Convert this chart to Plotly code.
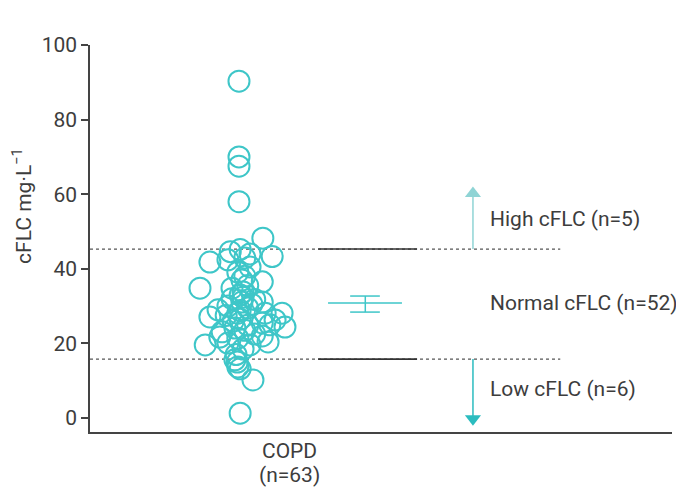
import plotly.graph_objects as go

# ---- data ----
category_label = ["COPD", "(n=63)"]
cflc_values = [90.3, 70.0, 67.5, 58.0, 48.2,
               45.2, 44.6, 43.3, 42.9, 42.4,
               41.8, 40.5, 39.1, 37.0, 36.5,
               34.8, 34.8, 33.8, 32.4, 31.1,
               31.1, 29.0, 28.1, 28.1, 28.1,
               27.1, 26.3, 25.5, 24.9, 24.4,
               24.1, 23.1, 21.7, 21.4, 20.4,
               20.1, 19.6, 19.6, 30.0, 26.5,
               22.5, 35.5, 38.0, 30.5, 27.5,
               25.0, 23.5, 32.0, 29.5, 33.0,
               26.0, 31.8, 22.0, 18.5, 17.0,
               44.0, 28.8, 15.6, 15.0, 13.7,
               13.2, 10.2, 1.3]
jitter = [0, 0, 0, 0, 0.41,
          0.02, -0.15, 0.57, 0.10, -0.19,
          -0.50, 0.19, -0.02, 0.05, 0.40,
          -0.67, -0.12, 0.07, 0.07, 0.05,
          0.40, -0.36, -0.02, 0.74, 0.45,
          -0.50, 0.62, 0.40, 0.15, 0.79,
          -0.07, -0.29, -0.33, -0.02, 0.50,
          -0.19, 0.19, -0.58, -0.19, 0.02,
          0.27, 0.15, 0.10, 0.22, -0.22,
          0.53, 0.10, -0.12, 0.15, 0.02,
          -0.10, 0.27, 0.40, 0.07, -0.05,
          0.19, 0.02, -0.07, -0.03, -0.02,
          0.02, 0.24, 0.02]
mean_value = 30.8
se_upper = 32.7
se_lower = 28.4
high_threshold = 45.3
low_threshold = 15.8
group_labels = ["High cFLC (n=5)", "Normal cFLC (n=52)", "Low cFLC (n=6)"]
y_ticks = [0, 20, 40, 60, 80, 100]

# ---- layout positions (axis units) ----
X_POINTS = 2.56
X_LABEL = 3.42
X_MEAN = 4.73
X_SOLID = (3.92, 5.62)
X_DOT_END = 8.08
X_ARROW = 6.58
X_TEXT = 6.84

TEAL = "#3ec6c8"
DARK = "#3d3d3d"
FONT = "Roboto"
FS = 21

fig = go.Figure()

# threshold lines (dotted, with solid middle segment)
for thr in (high_threshold, low_threshold):
    fig.add_trace(go.Scatter(x=[0, X_DOT_END], y=[thr, thr], mode="lines",
                             line=dict(color="#555555", width=1.2, dash="dot"),
                             hoverinfo="skip", showlegend=False))
    fig.add_trace(go.Scatter(x=list(X_SOLID), y=[thr, thr], mode="lines",
                             line=dict(color="#333333", width=1.6),
                             hoverinfo="skip", showlegend=False))

# points
fig.add_trace(go.Scatter(
    x=[X_POINTS + j for j in jitter], y=cflc_values, mode="markers",
    marker=dict(symbol="circle-open", size=21, color=TEAL, line=dict(width=2, color=TEAL)),
    showlegend=False))

# mean and SE bar
fig.add_trace(go.Scatter(x=[X_MEAN - 0.64, X_MEAN + 0.63], y=[mean_value, mean_value], mode="lines",
                         line=dict(color=TEAL, width=1.5), showlegend=False))
for v in (se_upper, se_lower):
    fig.add_trace(go.Scatter(x=[X_MEAN - 0.26, X_MEAN + 0.25], y=[v, v], mode="lines",
                             line=dict(color=TEAL, width=1.5), showlegend=False))
fig.add_trace(go.Scatter(x=[X_MEAN, X_MEAN], y=[se_lower, se_upper], mode="lines",
                         line=dict(color=TEAL, width=1.5), showlegend=False))

# arrows
UP = "#8fd4d5"
DOWN = "#2bbcbf"
fig.add_trace(go.Scatter(x=[X_ARROW, X_ARROW], y=[high_threshold, 59.5], mode="lines",
                         line=dict(color=UP, width=1.5), showlegend=False))
fig.add_trace(go.Scatter(x=[X_ARROW], y=[60.2], mode="markers",
                         marker=dict(symbol="triangle-up", size=14, color=UP), showlegend=False))
fig.add_trace(go.Scatter(x=[X_ARROW, X_ARROW], y=[low_threshold, 0.5], mode="lines",
                         line=dict(color=DOWN, width=1.5), showlegend=False))
fig.add_trace(go.Scatter(x=[X_ARROW], y=[-0.2], mode="markers",
                         marker=dict(symbol="triangle-down", size=14, color=DOWN), showlegend=False))

annotations = []
for txt, yv in zip(group_labels, [53.4, mean_value, 7.8]):
    annotations.append(dict(x=X_TEXT, y=yv, xref="x", yref="y", text=txt, showarrow=False,
                            xanchor="left", yanchor="middle",
                            font=dict(family=FONT, size=FS, color=DARK)))
for i, line in enumerate(category_label):
    annotations.append(dict(x=X_LABEL, y=-0.012 - i * 0.062, xref="x", yref="paper", text=line,
                            showarrow=False, xanchor="center", yanchor="top",
                            font=dict(family=FONT, size=FS, color=DARK)))
annotations.append(dict(x=-0.118, y=0.585, xref="paper", yref="paper",
                        text="cFLC mg·L<sup>−1</sup>", textangle=-90, showarrow=False,
                        xanchor="center", yanchor="middle",
                        font=dict(family=FONT, size=FS, color=DARK)))

fig.update_layout(
    width=676, height=493,
    margin=dict(l=82, r=12, t=37, b=69),
    paper_bgcolor="white", plot_bgcolor="white",
    font=dict(family=FONT, size=FS, color=DARK),
    annotations=annotations,
    xaxis=dict(range=[0, 10], showgrid=False, zeroline=False, showline=True,
               linecolor="#444444", linewidth=1.5, showticklabels=False, ticks=""),
    yaxis=dict(range=[-3.75, 100], tickvals=y_ticks, showgrid=False, zeroline=False,
               showline=True, linecolor="#444444", linewidth=1.5, ticks="outside",
               ticklen=7, tickwidth=1.5, tickcolor="#444444",
               tickfont=dict(family=FONT, size=FS, color=DARK)),
)

fig.write_html("out.html")
